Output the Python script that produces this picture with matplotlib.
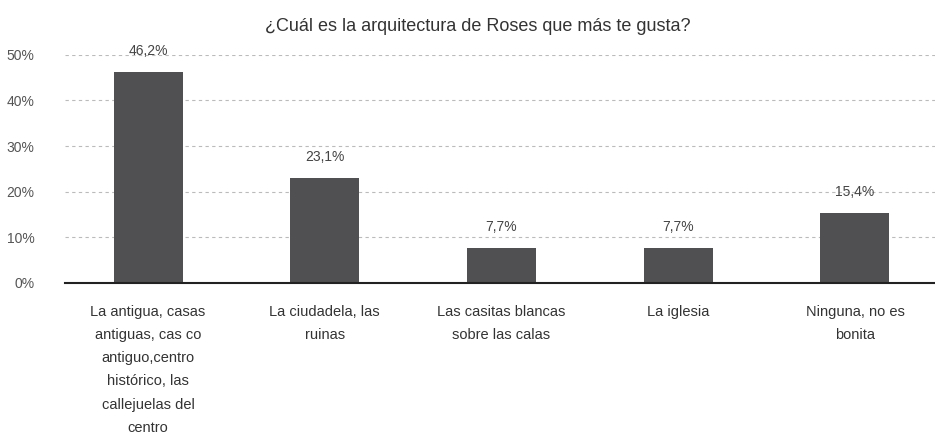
import numpy as np
import matplotlib.pyplot as plt

plt.rcParams['font.family'] = ['Liberation Sans', 'DejaVu Sans']

categorias = ['La antigua, casas\nantiguas, cas co\nantiguo,centro\nhistórico, las\ncallejuelas del\ncentro',
              'La ciudadela, las\nruinas',
              'Las casitas blancas\nsobre las calas',
              'La iglesia',
              'Ninguna, no es\nbonita']
valores = [46.2, 23.1, 7.7, 7.7, 15.4]
yticks = [0, 10, 20, 30, 40, 50]

fig = plt.figure(figsize=(9.35, 4.42), dpi=100)
ax = fig.add_axes([0.0695, 0.36, 0.9305, 0.516])

x = np.arange(len(valores))
ax.bar(x, valores, width=0.39, color='#505052', zorder=3)

for xi, v in zip(x, valores):
    ax.text(xi, v + 3.0, f'{v:.1f}%'.replace('.', ','), ha='center', va='bottom',
            fontsize=10, color='#444444')

ax.set_xlim(-0.47, 4.453)
ax.set_ylim(0, 50)
ax.set_yticks(yticks)
ax.set_yticklabels([f'{t}%' for t in yticks], fontsize=10, color='#555555')
ax.set_xticks(x)
ax.set_xticklabels(categorias, fontsize=10.5, color='#333333', linespacing=1.83, va='top')
ax.tick_params(axis='both', length=0)
ax.tick_params(axis='x', pad=16)
ax.tick_params(axis='y', pad=22)

ax.grid(axis='y', linestyle=(0, (3, 3)), color='#bbbbbb', linewidth=0.8, zorder=0)
for s in ['top', 'right', 'left']:
    ax.spines[s].set_visible(False)
ax.spines['bottom'].set_color('#222222')
ax.spines['bottom'].set_linewidth(1.5)
ax.spines['bottom'].set_zorder(4)

fig.text(0.511, 0.94, '¿Cuál es la arquitectura de Roses que más te gusta?',
         ha='center', va='center', fontsize=13, color='#333333')

fig.savefig('out.png', dpi=100)
